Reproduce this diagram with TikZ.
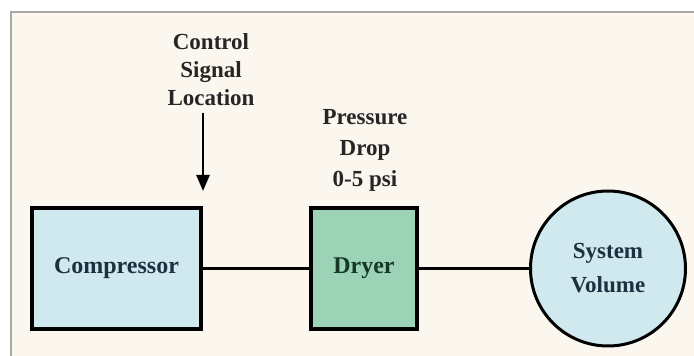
\documentclass[tikz,border=0pt]{standalone}
\usepackage{fontspec}
\setmainfont{Liberation Serif}
\usetikzlibrary{arrows.meta}
\definecolor{bgcream}{HTML}{FBF6EE}
\definecolor{framegray}{HTML}{A8A8A8}
\definecolor{compblue}{HTML}{CFE9EF}
\definecolor{dryergreen}{HTML}{9CD3B6}
\definecolor{textnavy}{HTML}{1E3040}
\definecolor{textgreen}{HTML}{163826}
\tikzset{
  unit/.style={draw=black, line width=3.5pt, inner sep=0pt, font=\fontsize{24}{28}\selectfont\bfseries, text=textnavy},
  lbl/.style={align=center, font=\fontsize{23}{28}\selectfont\bfseries, text=black!85},
  pipe/.style={draw=black, line width=2.4pt},
}
\begin{document}
\begin{tikzpicture}[x=1pt,y=1pt]
\useasboundingbox (0,0) rectangle (694,356);
\fill[white] (0,0) rectangle (694,356);
\fill[bgcream] (11,0) rectangle (694,344);
\draw[framegray, line width=1.8pt] (11,0) -- (11,344) -- (694,344);
\node[unit, fill=compblue, minimum width=169pt, minimum height=121pt] (comp) at (116.5,87.5) {Compressor};
\node[unit, fill=dryergreen, text=textgreen, minimum width=106pt, minimum height=121pt] (dryer) at (364,87.5) {Dryer};
\node[unit, circle, line width=3pt, fill=compblue, minimum size=155pt, align=center, font=\fontsize{23}{34}\selectfont\bfseries] (vol) at (608,87.5) {System\\Volume};
\node[lbl] (ctrl) at (211,286) {Control\\Signal\\Location};
\node[lbl, font=\fontsize{23}{31}\selectfont\bfseries] (press) at (365,206) {Pressure\\Drop\\0-5 psi};
\coordinate (atip) at (203,165);
\draw[line width=2.4pt, -{Triangle[length=16pt,width=13pt]}] (203,243) -- (atip);
\draw[pipe] (comp.east) -- (dryer.west);
\draw[pipe] (dryer.east) -- (vol.west);
\end{tikzpicture}
\end{document}
